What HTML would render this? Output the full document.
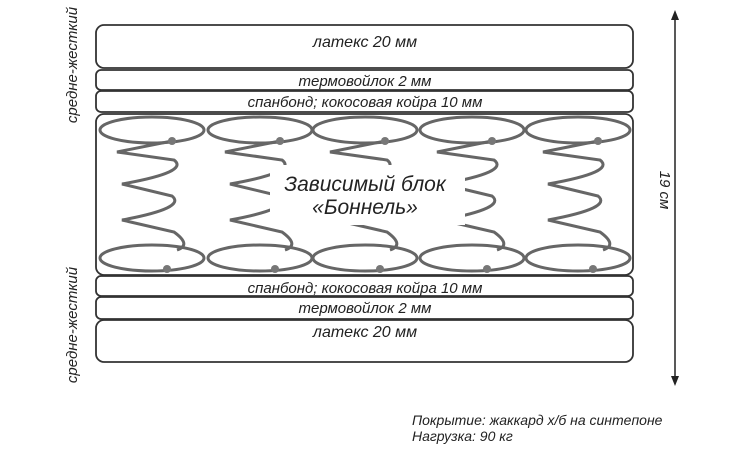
<!DOCTYPE html>
<html><head><meta charset="utf-8"><style>
body{margin:0;background:#fff}
svg text{font-family:"Liberation Sans",sans-serif;font-style:italic;fill:#222}
</style></head><body>
<svg width="749" height="451" viewBox="0 0 749 451" xmlns="http://www.w3.org/2000/svg">
<defs>
<g id="spring" fill="none" stroke="#666" stroke-width="3">
<ellipse cx="0" cy="130" rx="52" ry="13"/>
<path d="M20 141 L-35 152 L22 160 Q38 172 -30 184 L20 196 Q35 208 -30 220 L22 232 Q40 245 25 250"/>
<ellipse cx="0" cy="258" rx="52" ry="13"/>
<circle cx="20" cy="141" r="4" fill="#777" stroke="none"/>
<circle cx="15" cy="269" r="4" fill="#777" stroke="none"/>
</g>
</defs>
<g fill="#fff" stroke="#333" stroke-width="1.8">
<rect x="96" y="25" width="537" height="43" rx="8"/>
<rect x="96" y="70" width="537" height="20" rx="5"/>
<rect x="96" y="91" width="537" height="21" rx="5"/>
<rect x="96" y="114" width="537" height="161" rx="8"/>
<rect x="96" y="276" width="537" height="20" rx="5"/>
<rect x="96" y="297" width="537" height="22" rx="5"/>
<rect x="96" y="320" width="537" height="42" rx="8"/>
</g>
<use href="#spring" x="152"/>
<use href="#spring" x="260"/>
<use href="#spring" x="365"/>
<use href="#spring" x="472"/>
<use href="#spring" x="578"/>
<rect x="270" y="165" width="195" height="60" fill="#fff"/>
<g text-anchor="middle">
<text x="365" y="47" font-size="16">латекс 20 мм</text>
<text x="365" y="86" font-size="15">термовойлок 2 мм</text>
<text x="365" y="107" font-size="15">спанбонд; кокосовая койра 10 мм</text>
<text x="365" y="191" font-size="21">Зависимый блок</text>
<text x="365" y="214" font-size="21">«Боннель»</text>
<text x="365" y="293" font-size="15">спанбонд; кокосовая койра 10 мм</text>
<text x="365" y="313" font-size="15">термовойлок 2 мм</text>
<text x="365" y="337" font-size="16">латекс 20 мм</text>
<text transform="translate(77,65) rotate(-90)" font-size="15">средне-жесткий</text>
<text transform="translate(77,325) rotate(-90)" font-size="15">средне-жесткий</text>
<text transform="translate(660,190) rotate(90)" font-size="15">19 см</text>
</g>
<line x1="675" y1="18" x2="675" y2="378" stroke="#222" stroke-width="1.5"/>
<path d="M671 20 L675 10 L679 20Z M671 376 L675 386 L679 376Z" fill="#222"/>
<text x="412" y="425" font-size="14">Покрытие: жаккард х/б на синтепоне</text>
<text x="412" y="441" font-size="14">Нагрузка: 90 кг</text>
</svg>
</body></html>
